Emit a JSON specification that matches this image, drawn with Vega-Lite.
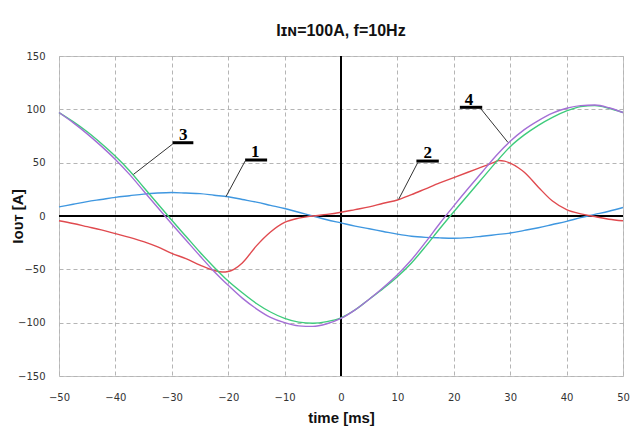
{
  "$schema": "https://vega.github.io/schema/vega-lite/v6.json",
  "width": 564,
  "height": 320,
  "autosize": {"type": "none"},
  "padding": {"left": 59, "top": 56, "right": 15, "bottom": 61},
  "background": "white",
  "title": {"text": "Iɪɴ=100A, f=10Hz", "font": "Liberation Sans", "fontSize": 16, "fontWeight": "bold", "color": "#111", "offset": 12, "anchor": "middle"},
  "config": {
    "view": {"stroke": "#c4c4c4", "strokeWidth": 1},
    "axis": {"grid": true, "gridDash": [4, 3], "gridColor": "#b5b5b5", "gridWidth": 1, "domain": false, "ticks": false, "labelFlush": false, "labelOverlap": false,
      "labelFont": "DejaVu Sans", "labelFontSize": 10, "labelColor": "#333",
      "titleFont": "Liberation Sans", "titleFontSize": 15, "titleFontWeight": "bold", "titleColor": "#111"}
  },
  "datasets": {
    "curves": [
      {"s":"1","t":-50,"v":8.5},{"s":"1","t":-47.5,"v":11},{"s":"1","t":-45,"v":13.5},{"s":"1","t":-42.5,"v":15.5},{"s":"1","t":-40,"v":17.5},{"s":"1","t":-37.5,"v":19},{"s":"1","t":-35,"v":20.5},{"s":"1","t":-32.5,"v":21.5},{"s":"1","t":-30,"v":22},{"s":"1","t":-27.5,"v":21.5},{"s":"1","t":-25,"v":21},{"s":"1","t":-22.5,"v":19.5},{"s":"1","t":-20,"v":18},{"s":"1","t":-17.5,"v":15.5},{"s":"1","t":-15,"v":13},{"s":"1","t":-12.5,"v":10},{"s":"1","t":-10,"v":7},{"s":"1","t":-7.5,"v":3.5},{"s":"1","t":-5,"v":0},{"s":"1","t":-2.5,"v":-3.5},{"s":"1","t":0,"v":-6.5},{"s":"1","t":2.5,"v":-9.5},{"s":"1","t":5,"v":-12},{"s":"1","t":7.5,"v":-14.5},{"s":"1","t":10,"v":-17},{"s":"1","t":12.5,"v":-19},{"s":"1","t":15,"v":-20},{"s":"1","t":17.5,"v":-20.5},{"s":"1","t":20,"v":-20.8},{"s":"1","t":22.5,"v":-20.3},{"s":"1","t":25,"v":-19},{"s":"1","t":27.5,"v":-17.5},{"s":"1","t":30,"v":-16},{"s":"1","t":32.5,"v":-13.5},{"s":"1","t":35,"v":-11},{"s":"1","t":37.5,"v":-8},{"s":"1","t":40,"v":-5},{"s":"1","t":42.5,"v":-1.5},{"s":"1","t":45,"v":1.5},{"s":"1","t":47.5,"v":4.5},{"s":"1","t":50,"v":8},
      {"s":"2","t":-50,"v":-4.5},{"s":"2","t":-47.5,"v":-7},{"s":"2","t":-45,"v":-10},{"s":"2","t":-42.5,"v":-13},{"s":"2","t":-40,"v":-16.5},{"s":"2","t":-37.5,"v":-20},{"s":"2","t":-35,"v":-24},{"s":"2","t":-32.5,"v":-29},{"s":"2","t":-30,"v":-35},{"s":"2","t":-27.5,"v":-40},{"s":"2","t":-25,"v":-46},{"s":"2","t":-22.5,"v":-51},{"s":"2","t":-21,"v":-52.5},{"s":"2","t":-20,"v":-52},{"s":"2","t":-19,"v":-50},{"s":"2","t":-17.5,"v":-44},{"s":"2","t":-15,"v":-28},{"s":"2","t":-12.5,"v":-15},{"s":"2","t":-10,"v":-6},{"s":"2","t":-7.5,"v":-2},{"s":"2","t":-5,"v":0},{"s":"2","t":-2.5,"v":1.5},{"s":"2","t":0,"v":3.5},{"s":"2","t":2.5,"v":6},{"s":"2","t":5,"v":8.5},{"s":"2","t":7.5,"v":12},{"s":"2","t":10,"v":15},{"s":"2","t":12.5,"v":20},{"s":"2","t":15,"v":25.5},{"s":"2","t":17.5,"v":31},{"s":"2","t":20,"v":36},{"s":"2","t":22.5,"v":41},{"s":"2","t":25,"v":46},{"s":"2","t":27,"v":50},{"s":"2","t":28,"v":52},{"s":"2","t":29,"v":51.5},{"s":"2","t":30,"v":49.5},{"s":"2","t":31.5,"v":45},{"s":"2","t":32.5,"v":41},{"s":"2","t":35,"v":27},{"s":"2","t":37.5,"v":14},{"s":"2","t":40,"v":6},{"s":"2","t":42.5,"v":2},{"s":"2","t":45,"v":-0.5},{"s":"2","t":47.5,"v":-3},{"s":"2","t":50,"v":-4.5},
      {"s":"3","t":-50,"v":97},{"s":"3","t":-47.5,"v":88.5},{"s":"3","t":-45,"v":79},{"s":"3","t":-42.5,"v":68},{"s":"3","t":-40,"v":56},{"s":"3","t":-37.5,"v":42.5},{"s":"3","t":-35,"v":27},{"s":"3","t":-32.5,"v":11.5},{"s":"3","t":-30,"v":-4},{"s":"3","t":-27.5,"v":-19},{"s":"3","t":-25,"v":-34},{"s":"3","t":-22.5,"v":-48},{"s":"3","t":-20,"v":-61},{"s":"3","t":-17.5,"v":-72},{"s":"3","t":-15,"v":-82},{"s":"3","t":-12.5,"v":-90},{"s":"3","t":-10,"v":-96},{"s":"3","t":-7.5,"v":-99.5},{"s":"3","t":-5,"v":-100.5},{"s":"3","t":-2.5,"v":-99},{"s":"3","t":0,"v":-95.5},{"s":"3","t":2.5,"v":-88},{"s":"3","t":5,"v":-78},{"s":"3","t":7.5,"v":-68},{"s":"3","t":10,"v":-57},{"s":"3","t":12.5,"v":-44},{"s":"3","t":15,"v":-28.5},{"s":"3","t":17.5,"v":-12},{"s":"3","t":20,"v":4},{"s":"3","t":22.5,"v":19.5},{"s":"3","t":25,"v":35},{"s":"3","t":27.5,"v":50.5},{"s":"3","t":30,"v":65},{"s":"3","t":32.5,"v":76},{"s":"3","t":35,"v":85},{"s":"3","t":37.5,"v":92.5},{"s":"3","t":40,"v":98.5},{"s":"3","t":42.5,"v":102.5},{"s":"3","t":45,"v":103.5},{"s":"3","t":47.5,"v":101},{"s":"3","t":50,"v":97},
      {"s":"4","t":-50,"v":97},{"s":"4","t":-47.5,"v":87.5},{"s":"4","t":-45,"v":77},{"s":"4","t":-42.5,"v":65.5},{"s":"4","t":-40,"v":53},{"s":"4","t":-37.5,"v":39},{"s":"4","t":-35,"v":23.5},{"s":"4","t":-32.5,"v":8},{"s":"4","t":-30,"v":-7.5},{"s":"4","t":-27.5,"v":-22.5},{"s":"4","t":-25,"v":-37.5},{"s":"4","t":-22.5,"v":-52},{"s":"4","t":-20,"v":-65},{"s":"4","t":-17.5,"v":-77},{"s":"4","t":-15,"v":-87},{"s":"4","t":-12.5,"v":-95},{"s":"4","t":-10,"v":-100},{"s":"4","t":-7.5,"v":-103},{"s":"4","t":-5,"v":-103.5},{"s":"4","t":-2.5,"v":-101},{"s":"4","t":0,"v":-96},{"s":"4","t":2.5,"v":-88},{"s":"4","t":5,"v":-78},{"s":"4","t":7.5,"v":-67},{"s":"4","t":10,"v":-55},{"s":"4","t":12.5,"v":-41},{"s":"4","t":15,"v":-24.5},{"s":"4","t":17.5,"v":-7},{"s":"4","t":20,"v":9.5},{"s":"4","t":22.5,"v":25.5},{"s":"4","t":25,"v":41},{"s":"4","t":27.5,"v":56.5},{"s":"4","t":30,"v":70},{"s":"4","t":32.5,"v":81},{"s":"4","t":35,"v":89.5},{"s":"4","t":37.5,"v":96.5},{"s":"4","t":40,"v":101},{"s":"4","t":42.5,"v":103.5},{"s":"4","t":45,"v":104},{"s":"4","t":47.5,"v":101.5},{"s":"4","t":50,"v":97}
    ],
    "labels": [
      {"n":"3","t":-27.95,"v":71.2,"bt":-29.84,"bt2":-26.18,"bv":68.7,"lt":-29.84,"lv":67.5,"lt2":-36.8,"lv2":39},
      {"n":"1","t":-15.2,"v":55.3,"bt":-17.0,"bt2":-13.1,"bv":52.5,"lt":-17.0,"lv":51.5,"lt2":-20.4,"lv2":18.1},
      {"n":"2","t":15.4,"v":54.4,"bt":13.37,"bt2":17.34,"bv":51.5,"lt":13.6,"lv":50,"lt2":10.23,"lv2":15.7},
      {"n":"4","t":22.7,"v":104.5,"bt":21.07,"bt2":25.04,"bv":101.9,"lt":24.74,"lv":100.9,"lt2":29.6,"lv2":69}
    ],
    "zero": [{"z":0}]
  },
  "resolve": {"scale": {"x": "shared", "y": "shared"}},
  "layer": [
    {
      "data": {"name": "zero"},
      "mark": {"type": "rule", "color": "black", "strokeWidth": 2},
      "encoding": {
        "y": {"field": "z", "type": "quantitative", "scale": {"domain": [-150, 150], "nice": false, "zero": false},
          "axis": {"values": [-150, -100, -50, 0, 50, 100, 150], "labelPadding": 14, "title": "Iᴏᴜᴛ  [A]", "titleX": -42, "titleY": 160, "titleAngle": -90, "titleAlign": "center", "titleBaseline": "middle"}}
      }
    },
    {
      "data": {"name": "zero"},
      "mark": {"type": "rule", "color": "black", "strokeWidth": 2},
      "encoding": {
        "x": {"field": "z", "type": "quantitative", "scale": {"domain": [-50, 50], "nice": false, "zero": false},
          "axis": {"values": [-50, -40, -30, -20, -10, 0, 10, 20, 30, 40, 50], "labelPadding": 16, "title": "time [ms]", "titlePadding": 8}}
      }
    },
    {
      "data": {"name": "curves"},
      "mark": {"type": "line", "strokeWidth": 1.4, "interpolate": "monotone"},
      "encoding": {
        "x": {"field": "t", "type": "quantitative", "scale": {"domain": [-50, 50], "nice": false, "zero": false}},
        "y": {"field": "v", "type": "quantitative", "scale": {"domain": [-150, 150], "nice": false, "zero": false}},
        "color": {"field": "s", "type": "nominal", "scale": {"domain": ["1", "2", "3", "4"], "range": ["#3f97e0", "#e04a4f", "#3ecb7c", "#a46fd6"]}, "legend": null},
        "order": {"field": "t", "type": "quantitative"}
      }
    },
    {
      "data": {"name": "labels"},
      "mark": {"type": "rule", "color": "#333", "strokeWidth": 1},
      "encoding": {
        "x": {"field": "lt", "type": "quantitative", "scale": {"domain": [-50, 50], "nice": false, "zero": false}},
        "y": {"field": "lv", "type": "quantitative", "scale": {"domain": [-150, 150], "nice": false, "zero": false}},
        "x2": {"field": "lt2"},
        "y2": {"field": "lv2"}
      }
    },
    {
      "data": {"name": "labels"},
      "mark": {"type": "rule", "color": "black", "strokeWidth": 3},
      "encoding": {
        "x": {"field": "bt", "type": "quantitative", "scale": {"domain": [-50, 50], "nice": false, "zero": false}},
        "x2": {"field": "bt2"},
        "y": {"field": "bv", "type": "quantitative", "scale": {"domain": [-150, 150], "nice": false, "zero": false}}
      }
    },
    {
      "data": {"name": "labels"},
      "mark": {"type": "text", "font": "Liberation Serif", "fontSize": 17, "fontWeight": "bold", "color": "black", "baseline": "alphabetic", "align": "center"},
      "encoding": {
        "x": {"field": "t", "type": "quantitative", "scale": {"domain": [-50, 50], "nice": false, "zero": false}},
        "y": {"field": "v", "type": "quantitative", "scale": {"domain": [-150, 150], "nice": false, "zero": false}},
        "text": {"field": "n"}
      }
    }
  ]
}
